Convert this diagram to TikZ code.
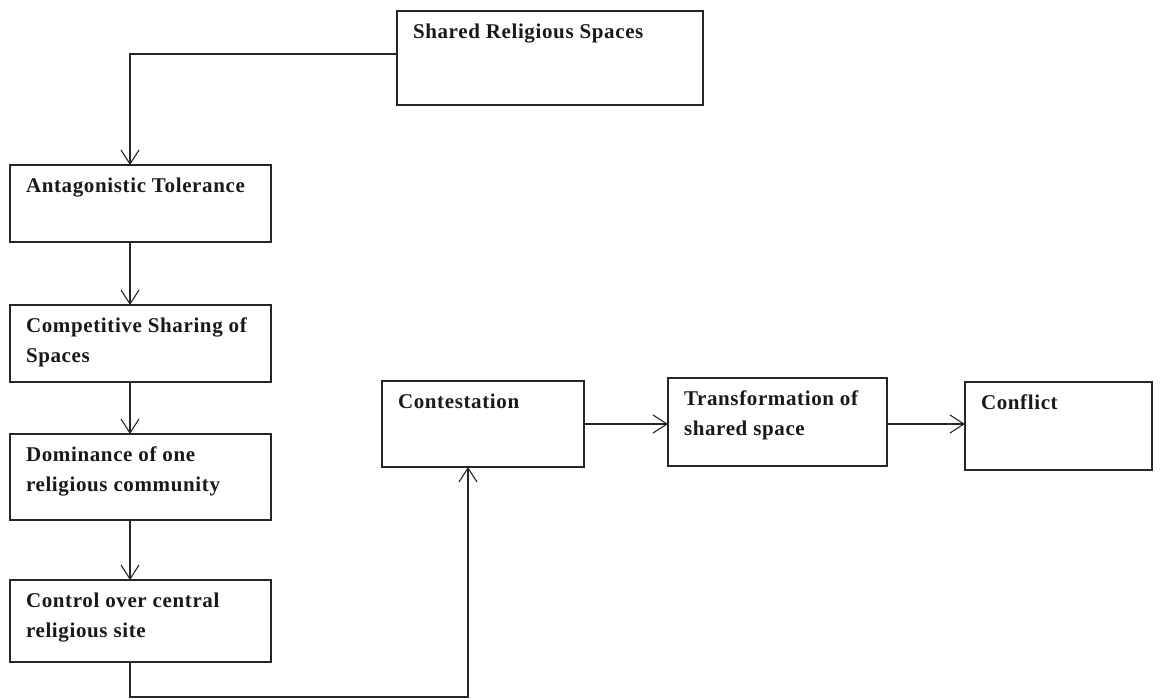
\documentclass[tikz,border=0pt]{standalone}
\usepackage{fontspec}
\setmainfont{Liberation Serif}[LetterSpace=3]
\usetikzlibrary{arrows.meta}
\tikzset{
  box/.style={draw=black!85, line width=1.6pt, rectangle, inner sep=0pt, outer sep=0pt, anchor=north west},
  lbl/.style={anchor=base west, inner sep=0pt, outer sep=0pt, font=\fontsize{21}{30}\selectfont\bfseries, text=black!90},
  conn/.style={draw=black!85, line width=1.1pt},
  arr/.style={conn, -{Straight Barb[length=14pt,width=18pt,line width=1.1pt]}}
}
\newcommand{\mybox}[6]{%
  \node[box, minimum width=#4pt-#2pt, minimum height=#5pt-#3pt] (#1) at (#2,#3) {};
  \node[lbl] (#1-t) at ([xshift=16pt,yshift=-27pt]#1.north west) {\begin{tabular}[t]{@{}l@{}}#6\end{tabular}};
}
\begin{document}
\begin{tikzpicture}[x=1pt,y=-1pt]
\useasboundingbox (0,0) rectangle (1171,699);
\mybox{sh}{397}{11}{703}{105}{Shared Religious Spaces}
\mybox{at}{10}{165}{271}{242}{Antagonistic Tolerance}
\mybox{cs}{10}{305}{271}{382}{Competitive Sharing of\\Spaces}
\mybox{dm}{10}{434}{271}{520}{Dominance of one\\religious community}
\mybox{ct}{10}{580}{271}{662}{Control over central\\religious site}
\mybox{co}{382}{381}{584}{467}{Contestation}
\mybox{tr}{668}{378}{887}{466}{Transformation of\\shared space}
\mybox{cf}{965}{382}{1152}{470}{Conflict}
\coordinate (colx) at (130,0);
\coordinate (cb) at (468,697);
\draw[arr] ([yshift=4pt]sh.west) -| (at.north -| colx);
\draw[arr] (at.south -| colx) -- (cs.north -| colx);
\draw[arr] (cs.south -| colx) -- (dm.north -| colx);
\draw[arr] (dm.south -| colx) -- (ct.north -| colx);
\draw[arr] (ct.south -| colx) |- (cb) -- (cb |- co.south);
\draw[arr] (co.east) -- (tr.west |- co.east);
\draw[arr] (tr.east |- co.east) -- (cf.west |- co.east);
\end{tikzpicture}
\end{document}
